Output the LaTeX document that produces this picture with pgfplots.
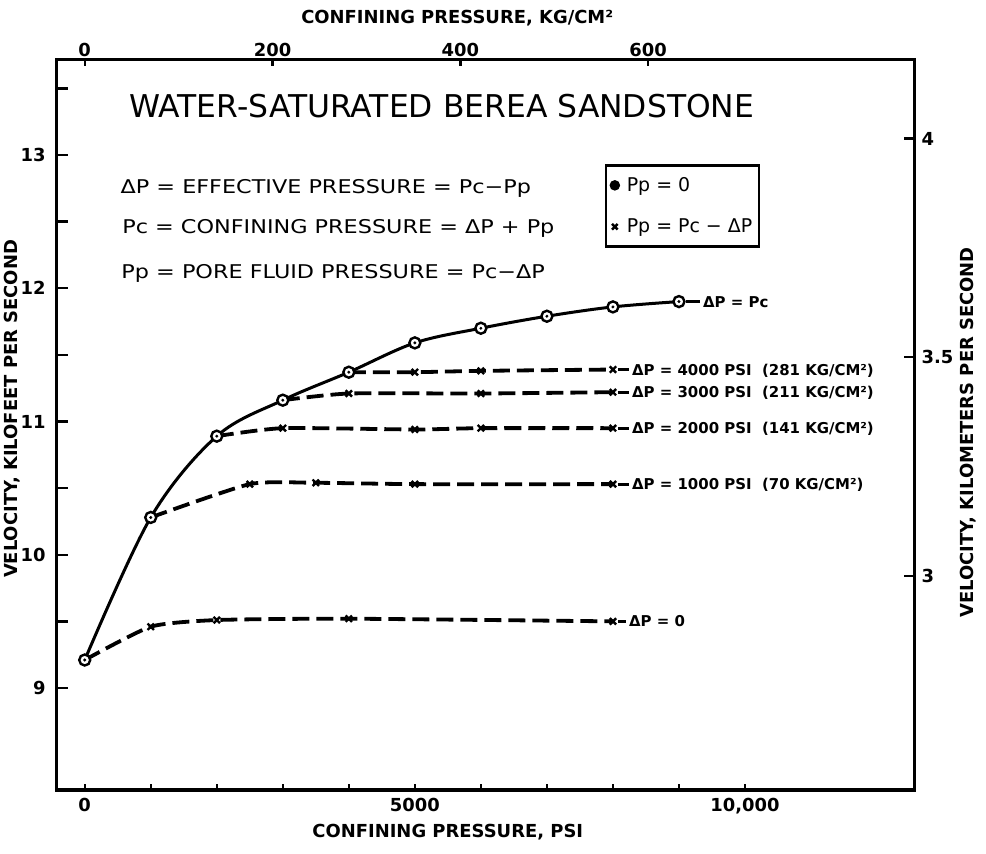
\documentclass[border=0pt]{standalone}
\usepackage{fontspec}
\setmainfont{DejaVu Sans}
\usepackage{graphicx}
\usepackage{pgfplots}
\pgfplotsset{compat=1.18}

\newcommand\fs[1]{\fontsize{#1}{#1}\selectfont}
% short leader between a curve end and its label
\newcommand\lead[1]{\rule[4bp]{#1}{3bp}\hspace{3bp}}

\begin{document}
\begin{tikzpicture}
\pgfplotsset{
  circ/.style={mark=*, mark size=5.5bp, mark options={solid, fill=white, draw=black, line width=2.4bp}},
  dot/.style={only marks, mark=*, mark size=1.3bp, mark options={fill=black, draw=black}},
  eff/.style={black, line width=3.8bp, dash pattern=on 17bp off 7bp, smooth, tension=0.35,
    mark=x, mark size=4.5bp, mark options={solid, line width=2.4bp}},
}
% lower/left scales: psi and kilofeet per second
\begin{axis}[
  scale only axis, width=857bp, height=730bp,
  xmin=-420, xmax=12560, ymin=8.2345, ymax=13.713,
  clip=false,
  axis line style={line width=3bp},
  tick align=inside,
  xtick pos=bottom, ytick pos=left,
  scaled x ticks=false, scaled y ticks=false,
  xtick={0,1000,...,10000},
  xticklabels={0,,,,,5000,,,,,{10,000}},
  ytick={9,10,11,12,13},
  yticklabels={9,10,11,12,13},
  minor ytick={9.5,10.5,11.5,12.5,13.5},
  major tick length=11bp, minor tick length=11bp,
  xtick style={/pgfplots/major tick length=6bp},
  tick style={line width=2.4bp, black},
  ticklabel style={font=\bfseries\fs{18}},
  yticklabel style={xshift=-8bp},
  xticklabel style={yshift=-5bp},
  legend style={at={(axis description cs:0.639,0.857)}, anchor=north west,
    draw=black, line width=2.4bp, fill=white, font=\fs{19},
    inner xsep=5bp, inner ysep=10bp, row sep=22bp},
  legend cell align=left,
]
% Pp = Pc - dP : constant effective pressure paths (dashed, x marks)
\addplot[eff, mark indices={2,3,4,5}, forget plot] coordinates
  {(0,9.21) (1000,9.46) (2000,9.51) (4000,9.52) (8000,9.50)};
\addplot[eff, mark indices={2,3,4,5}, forget plot] coordinates
  {(1000,10.28) (2500,10.53) (3500,10.54) (5000,10.53) (8000,10.53)};
\addplot[eff, mark indices={2,3,4,5}, forget plot] coordinates
  {(2000,10.89) (3000,10.95) (5000,10.94) (6000,10.95) (8000,10.95)};
\addplot[eff, mark indices={2,3,4}, forget plot] coordinates
  {(3000,11.16) (4000,11.21) (6000,11.21) (8000,11.22)};
\addplot[eff, mark indices={2,3,4}, forget plot] coordinates
  {(4000,11.37) (5000,11.37) (6000,11.38) (8000,11.39)};

% Pp = 0 : effective pressure equals confining pressure (solid, circles)
\addplot[black, line width=3bp, smooth, tension=0.55, circ, forget plot] coordinates
  {(0,9.21) (1000,10.28) (2000,10.89) (3000,11.16) (4000,11.37)
   (5000,11.59) (6000,11.70) (7000,11.79) (8000,11.86) (9000,11.90)};
\addplot[dot, forget plot] coordinates
  {(0,9.21) (1000,10.28) (2000,10.89) (3000,11.16) (4000,11.37)
   (5000,11.59) (6000,11.70) (7000,11.79) (8000,11.86) (9000,11.90)};

\addlegendimage{only marks, mark=*, mark size=4bp, mark options={fill=black, draw=black}}
\addlegendentry{\hspace{6bp}Pp = 0}
\addlegendimage{only marks, mark=x, mark size=4bp, mark options={line width=2.4bp}}
\addlegendentry{\hspace{6bp}Pp = Pc − ΔP}

% curve labels
\begin{scope}[every node/.style={anchor=base west, yshift=-5.5bp, font=\bfseries\fs{15}, inner sep=0pt}]
\node[xshift=7bp] at (axis cs:9000,11.90) {\lead{14bp}ΔP = Pc};
\node[xshift=5bp] at (axis cs:8000,11.39) {\lead{11bp}ΔP = 4000 PSI \ (281 KG/CM²)};
\node[xshift=5bp] at (axis cs:8000,11.22) {\lead{11bp}ΔP = 3000 PSI \ (211 KG/CM²)};
\node[xshift=5bp] at (axis cs:8000,10.95) {\lead{11bp}ΔP = 2000 PSI \ (141 KG/CM²)};
\node[xshift=5bp] at (axis cs:8000,10.53) {\lead{11bp}ΔP = 1000 PSI \ (70 KG/CM²)};
\node[xshift=5bp] at (axis cs:8000,9.50) {\lead{8bp}ΔP = 0};
\end{scope}

% title and definitions
\node[font=\fs{31.5}] at (axis description cs:0.449,0.937) {WATER-SATURATED BEREA SANDSTONE};
\begin{scope}[every node/.style={anchor=west, font=\fs{19}, inner sep=0pt}]
\node at (axis description cs:0.074,0.824) {\scalebox{1.18}[1]{ΔP = EFFECTIVE PRESSURE = Pc−Pp}};
\node at (axis description cs:0.076,0.769) {\scalebox{1.18}[1]{Pc = CONFINING PRESSURE = ΔP + Pp}};
\node at (axis description cs:0.075,0.708) {\scalebox{1.18}[1]{Pp = PORE FLUID PRESSURE = Pc−ΔP}};
\end{scope}

% axis titles
\begin{scope}[every node/.style={font=\bfseries\fs{18}}]
\node at (axis description cs:0.456,-0.058) {CONFINING PRESSURE, PSI};
\node at (axis description cs:0.467,1.058) {CONFINING PRESSURE, KG/CM²};
\node[rotate=90] at (axis description cs:-0.0525,0.522) {VELOCITY, KILOFEET PER SECOND};
\node[rotate=90] at (axis description cs:1.063,0.490) {VELOCITY, KILOMETERS PER SECOND};
\end{scope}
\end{axis}

% upper/right scales: kg/cm^2 and kilometers per second
\begin{axis}[
  scale only axis, width=857bp, height=730bp,
  xmin=-29.53, xmax=883.07, ymin=2.50988, ymax=4.17972,
  axis x line*=top, axis y line*=right,
  axis line style={line width=3bp},
  tick align=inside,
  xtick={0,200,400,600}, xticklabels={0,200,400,600},
  ytick={3,3.5,4}, yticklabels={3,3.5,4},
  major tick length=10bp,
  xtick style={/pgfplots/major tick length=6bp},
  tick style={line width=2.4bp, black},
  ticklabel style={font=\bfseries\fs{18}},
  yticklabel style={xshift=4bp},
]
\end{axis}

\pgfresetboundingbox
\path ([shift={(-57bp,-64bp)}]current axis.south west)
  rectangle ([shift={(72bp,60bp)}]current axis.north east);
\end{tikzpicture}
\end{document}
